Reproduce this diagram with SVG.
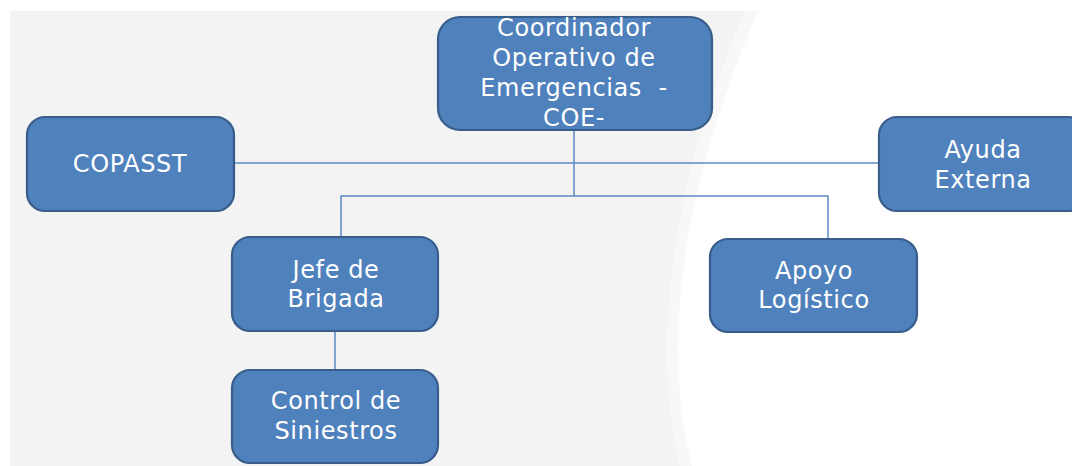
<svg xmlns="http://www.w3.org/2000/svg" width="1072" height="466" viewBox="0 0 1072 466">
<style>
.box{fill:#4f81bd;stroke:#385d8a;stroke-width:2.2}
.lbl{font-family:"DejaVu Sans","Open Sans",sans-serif;font-size:24px;letter-spacing:0.6px;fill:#ffffff;text-anchor:middle;white-space:pre}
.con{stroke:#5b8bc6;stroke-width:1.5;fill:none}
</style>
<rect x="0" y="0" width="1072" height="466" fill="#ffffff"/>
<path d="M10,11 H758 C712,120 650,300 692,466 H10 Z" fill="#f8f8f8"/>
<path d="M10,11 H744 C700,120 640,300 680,466 H10 Z" fill="#f3f3f3"/>
<g id="connectors">
<line class="con" x1="574" y1="130" x2="574" y2="196"/>
<line class="con" x1="234" y1="163" x2="879" y2="163"/>
<polyline class="con" points="341,237 341,196 828,196 828,239"/>
<line class="con" x1="335" y1="331" x2="335" y2="370"/>
</g>
<g id="coe">
<rect class="box" x="438" y="17" width="274" height="113" rx="22"/>
<text class="lbl" x="574" y="36">Coordinador</text>
<text class="lbl" x="574" y="66">Operativo de</text>
<text class="lbl" x="574" y="96">Emergencias  -</text>
<text class="lbl" x="574" y="126">COE-</text>
</g>
<g id="copasst">
<rect class="box" x="27" y="117" width="207" height="94" rx="18"/>
<text class="lbl" x="130" y="172">COPASST</text>
</g>
<g id="ayuda">
<rect class="box" x="879" y="117" width="207" height="94" rx="18"/>
<text class="lbl" x="983" y="158">Ayuda</text>
<text class="lbl" x="983" y="188">Externa</text>
</g>
<g id="jefe">
<rect class="box" x="232" y="237" width="206" height="94" rx="18"/>
<text class="lbl" x="336" y="278">Jefe de</text>
<text class="lbl" x="336" y="307">Brigada</text>
</g>
<g id="apoyo">
<rect class="box" x="710" y="239" width="207" height="93" rx="18"/>
<text class="lbl" x="814" y="279">Apoyo</text>
<text class="lbl" x="814" y="308">Logístico</text>
</g>
<g id="control">
<rect class="box" x="232" y="370" width="206" height="93" rx="18"/>
<text class="lbl" x="336" y="409">Control de</text>
<text class="lbl" x="336" y="439">Siniestros</text>
</g>
</svg>
